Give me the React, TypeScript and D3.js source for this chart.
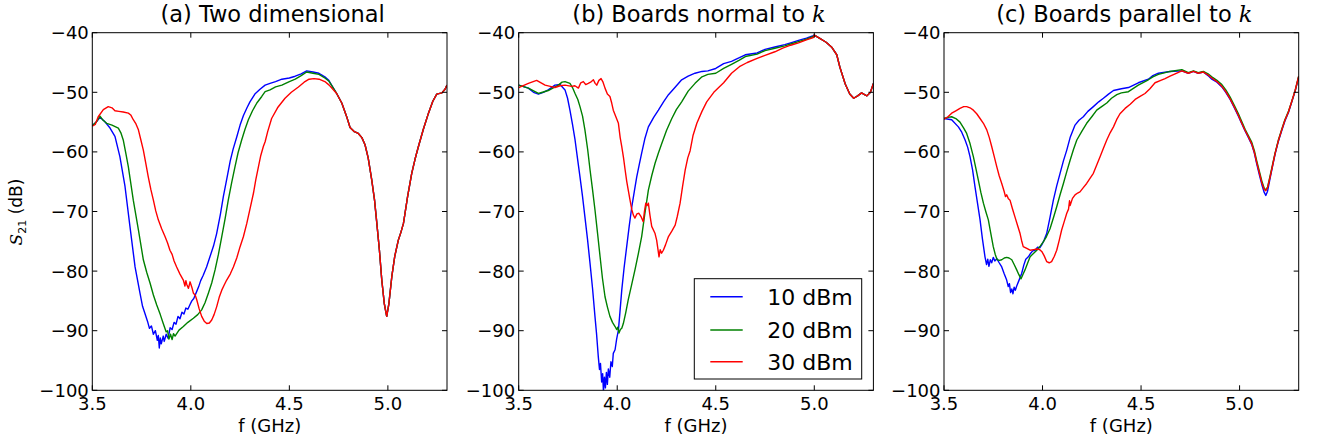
import React from 'react';
import * as d3 from 'd3';

// frequency (GHz), S21 (dB)
const xTicks = [3.5, 4.0, 4.5, 5.0];
const yTicks = [-40, -50, -60, -70, -80, -90, -100];
const powers = ['10 dBm', '20 dBm', '30 dBm'];
const colors = ['#0000ff', '#008000', '#ff0000'];

// (a) two dimensional
const aTail = [[4.74,-50.2],[4.766,-51.8],[4.79,-54.0],[4.808,-55.9],[4.83,-56.6],[4.85,-56.9],[4.868,-57.6],[4.884,-58.8],[4.9,-61.0],[4.918,-64.7],[4.932,-68.0],[4.944,-72],[4.957,-76.5],[4.969,-81.5],[4.982,-85.5],[4.994,-87.6],[5.005,-85.5],[5.02,-80.9],[5.035,-77.5],[5.053,-74.8],[5.066,-73.5],[5.079,-72],[5.1,-67.5],[5.121,-63.6],[5.138,-61.2],[5.155,-59.1],[5.18,-56.2],[5.206,-53.5],[5.228,-51.5],[5.248,-50.3],[5.274,-50.1],[5.29,-49.5],[5.3,-48.8]];
const aBlue = [[3.5,-55.6],[3.52,-55.0],[3.539,-54.2],[3.56,-54.8],[3.59,-56],[3.615,-57.4],[3.64,-60.8],[3.666,-65.8],[3.691,-72.5],[3.717,-79.3],[3.742,-83.7],[3.755,-85.9],[3.768,-87.2],[3.78,-88.4],[3.79,-89.6],[3.8,-89.2],[3.81,-90.6],[3.82,-90.0],[3.83,-91.6],[3.835,-90.8],[3.84,-92.9],[3.845,-91.2],[3.85,-92.2],[3.86,-90.9],[3.865,-91.8],[3.875,-90.6],[3.885,-91.3],[3.895,-89.5],[3.905,-89.8],[3.915,-88.6],[3.925,-88.9],[3.935,-87.6],[3.945,-88.0],[3.955,-86.9],[3.965,-87.2],[3.975,-86.2],[3.985,-86.4],[3.996,-85.6],[4.005,-85.0],[4.015,-84.6],[4.03,-83.4],[4.04,-82.6],[4.05,-81.6],[4.063,-80.7],[4.08,-79.3],[4.097,-77.6],[4.115,-75.8],[4.131,-73.7],[4.15,-70.5],[4.165,-67.5],[4.182,-64.6],[4.2,-61.5],[4.215,-59.5],[4.233,-57.5],[4.25,-55.5],[4.267,-53.9],[4.285,-52.6],[4.3,-51.6],[4.325,-50.3],[4.351,-49.5],[4.377,-48.8],[4.402,-48.5],[4.43,-48.2],[4.462,-47.8],[4.5,-47.6],[4.53,-47.3],[4.56,-46.9],[4.588,-46.4],[4.62,-46.6],[4.65,-46.8],[4.68,-47.4],[4.7,-48.0]];
const aGreen = [[3.5,-55.6],[3.52,-55.0],[3.539,-54.0],[3.555,-54.7],[3.573,-55.2],[3.6,-55.5],[3.632,-56.0],[3.645,-56.8],[3.657,-58],[3.67,-60.2],[3.683,-62.5],[3.708,-68.1],[3.734,-73.1],[3.759,-78.1],[3.776,-80.2],[3.793,-82],[3.81,-84.0],[3.827,-85.7],[3.845,-87.3],[3.86,-88.8],[3.875,-90.2],[3.882,-90.0],[3.889,-91.4],[3.897,-90.6],[3.905,-91.5],[3.912,-90.5],[3.92,-90.9],[3.94,-89.9],[3.962,-89.3],[3.985,-88.6],[4.013,-87.9],[4.035,-87.3],[4.055,-86.5],[4.072,-85.3],[4.089,-83.7],[4.106,-82],[4.123,-79.8],[4.14,-77.2],[4.157,-74.2],[4.174,-71.2],[4.19,-68.1],[4.207,-65.2],[4.224,-62.5],[4.24,-60.1],[4.258,-58],[4.275,-56.2],[4.292,-54.6],[4.313,-53.1],[4.335,-51.8],[4.36,-50.7],[4.377,-49.9],[4.402,-49.6],[4.43,-49.1],[4.462,-48.8],[4.5,-48.2],[4.53,-47.8],[4.56,-47.2],[4.588,-46.6],[4.62,-46.8],[4.65,-47.0],[4.68,-47.6],[4.7,-48.1]];
const aRed = [[3.5,-55.7],[3.515,-55.4],[3.53,-54.1],[3.556,-52.9],[3.581,-52.4],[3.6,-52.6],[3.615,-53.1],[3.635,-53.2],[3.657,-53.3],[3.683,-53.5],[3.695,-53.8],[3.708,-54.6],[3.72,-55.2],[3.734,-56.3],[3.745,-57.8],[3.759,-59.7],[3.772,-62.0],[3.784,-64.2],[3.797,-66.3],[3.81,-68.1],[3.822,-69.9],[3.835,-71.4],[3.852,-72.9],[3.869,-74.2],[3.882,-75.3],[3.894,-76.5],[3.905,-77.2],[3.915,-78.3],[3.928,-79.3],[3.945,-80.5],[3.962,-81.5],[3.97,-82.5],[3.975,-81.6],[3.979,-82.2],[3.988,-82.9],[3.996,-81.8],[4.005,-82.7],[4.013,-83.7],[4.022,-84.0],[4.03,-84.8],[4.042,-86.3],[4.055,-87.6],[4.068,-88.4],[4.081,-88.8],[4.094,-88.7],[4.106,-88.2],[4.118,-87.3],[4.131,-86],[4.144,-84.4],[4.157,-83.2],[4.17,-82.3],[4.182,-81.5],[4.2,-80.5],[4.216,-79.3],[4.233,-77.8],[4.25,-75.9],[4.267,-74.2],[4.284,-72],[4.3,-69.6],[4.318,-66.9],[4.33,-64.6],[4.343,-62.5],[4.355,-60.6],[4.368,-59.1],[4.377,-58.3],[4.39,-56.6],[4.41,-54.4],[4.44,-52.6],[4.478,-51],[4.51,-50.0],[4.546,-49.1],[4.575,-48.3],[4.6,-47.8],[4.625,-47.7],[4.651,-47.8],[4.68,-48.2],[4.702,-48.8]];

// (b) boards normal to k
const bTail = [[5.0,-40.4],[5.03,-41.0],[5.06,-41.6],[5.09,-42.5],[5.114,-43.7],[5.13,-45.8],[5.157,-48.6],[5.18,-50.3],[5.2,-51.0],[5.22,-50.6],[5.24,-50.1],[5.255,-50.4],[5.267,-50.6],[5.285,-50.0],[5.3,-48.5]];
const bBlue = [[3.5,-48.8],[3.549,-49.3],[3.575,-50.0],[3.6,-50.3],[3.625,-50.0],[3.65,-49.6],[3.684,-48.8],[3.71,-48.7],[3.735,-49.6],[3.748,-51.0],[3.76,-53],[3.773,-55.4],[3.786,-58],[3.798,-61.0],[3.811,-64.2],[3.824,-67.5],[3.836,-70.9],[3.849,-74.6],[3.862,-78.7],[3.875,-83.0],[3.887,-87.6],[3.895,-90.5],[3.904,-94.4],[3.91,-96.5],[3.915,-95.5],[3.921,-98.6],[3.926,-97.2],[3.93,-100.2],[3.935,-97.8],[3.94,-99.6],[3.945,-97.0],[3.95,-99.0],[3.955,-96.4],[3.962,-97.8],[3.968,-95.2],[3.975,-96.0],[3.98,-93.8],[3.989,-93.2],[3.997,-91.4],[4.006,-89.9],[4.014,-86.8],[4.023,-83.2],[4.035,-79.4],[4.048,-75.9],[4.061,-72.4],[4.074,-69.2],[4.087,-66.6],[4.099,-64.2],[4.112,-62.1],[4.124,-60.2],[4.14,-57.8],[4.158,-55.8],[4.185,-54.2],[4.209,-53],[4.235,-51.6],[4.26,-50.4],[4.295,-49.1],[4.327,-47.9],[4.36,-47.3],[4.395,-46.8],[4.43,-46.5],[4.46,-46.4],[4.5,-46.0],[4.54,-45.2],[4.58,-44.8],[4.62,-44.2],[4.65,-43.7],[4.71,-43.4],[4.75,-42.8],[4.8,-42.4],[4.85,-42.0],[4.88,-41.7],[4.92,-41.3],[4.96,-40.9],[4.995,-40.5]];
const bGreen = [[3.5,-48.8],[3.549,-49.3],[3.6,-50.2],[3.65,-49.7],[3.701,-48.8],[3.72,-48.3],[3.735,-48.2],[3.76,-48.5],[3.773,-49.2],[3.786,-50.2],[3.8,-51.2],[3.811,-52.4],[3.824,-54.0],[3.836,-56.3],[3.85,-59.6],[3.862,-63],[3.875,-66.4],[3.887,-69.7],[3.9,-73.6],[3.913,-77.6],[3.925,-81.2],[3.938,-84.3],[3.95,-86.0],[3.963,-87.6],[3.976,-88.6],[3.989,-89.3],[3.997,-89.8],[4.003,-89.4],[4.009,-90.4],[4.016,-89.8],[4.023,-89.6],[4.031,-88.8],[4.043,-87.0],[4.056,-84.8],[4.073,-82.3],[4.09,-79.8],[4.107,-77.1],[4.124,-74.2],[4.14,-70.4],[4.158,-66.4],[4.175,-64.0],[4.192,-61.9],[4.209,-60.2],[4.226,-58.6],[4.25,-56.4],[4.277,-54.4],[4.3,-52.9],[4.327,-51.6],[4.36,-49.8],[4.395,-48.5],[4.43,-47.4],[4.46,-47.0],[4.5,-46.8],[4.54,-46.0],[4.58,-45.3],[4.62,-44.6],[4.65,-44.0],[4.71,-43.6],[4.75,-43.0],[4.8,-42.6],[4.85,-42.2],[4.88,-41.9],[4.92,-41.5],[4.96,-41.1],[4.995,-40.6]];
const bRed = [[3.5,-49.2],[3.549,-48.5],[3.591,-48.0],[3.634,-48.8],[3.66,-49.0],[3.684,-49.2],[3.71,-48.9],[3.735,-48.8],[3.769,-49.0],[3.785,-48.9],[3.803,-49.3],[3.815,-48.4],[3.828,-48.2],[3.84,-48.7],[3.853,-48.5],[3.865,-48.3],[3.879,-47.9],[3.888,-48.5],[3.896,-48.8],[3.907,-48.0],[3.918,-47.7],[3.928,-48.3],[3.938,-49.3],[3.95,-50.3],[3.963,-50.7],[3.972,-51.8],[3.98,-53],[3.993,-54.1],[4.006,-55.2],[4.015,-57.6],[4.023,-59.1],[4.032,-61.0],[4.04,-63],[4.048,-64.9],[4.056,-66.4],[4.065,-68.1],[4.074,-69.7],[4.082,-70.6],[4.09,-71.1],[4.1,-70.4],[4.11,-70.3],[4.12,-70.8],[4.132,-71.7],[4.138,-70.0],[4.145,-68.6],[4.152,-69.0],[4.158,-68.6],[4.166,-70.6],[4.175,-72.5],[4.192,-73.7],[4.2,-74.8],[4.206,-76.2],[4.212,-77.6],[4.218,-76.4],[4.225,-77.0],[4.234,-76.5],[4.245,-75.6],[4.26,-74.2],[4.277,-73.3],[4.294,-72.3],[4.305,-70.8],[4.319,-68.6],[4.332,-65.7],[4.345,-63],[4.358,-61.0],[4.37,-59.8],[4.385,-57.2],[4.404,-55.2],[4.43,-53.2],[4.454,-51.6],[4.49,-50.0],[4.54,-48.4],[4.58,-46.8],[4.62,-45.7],[4.66,-45.0],[4.71,-44.3],[4.75,-43.8],[4.8,-43.2],[4.84,-42.6],[4.88,-42.1],[4.92,-41.7],[4.96,-41.2],[4.995,-40.8]];

// (c) boards parallel to k
const cBlue = [[3.5,-54.4],[3.539,-54.6],[3.573,-55.8],[3.59,-56.7],[3.607,-58],[3.62,-59.2],[3.632,-60.8],[3.645,-63.0],[3.657,-65.8],[3.67,-68.6],[3.683,-71.4],[3.695,-74.6],[3.708,-77.6],[3.716,-78.9],[3.722,-78.0],[3.728,-79.2],[3.735,-78.1],[3.742,-78.6],[3.75,-77.7],[3.758,-78.3],[3.768,-77.9],[3.78,-78.6],[3.793,-79.3],[3.805,-80.4],[3.818,-81.5],[3.826,-82.6],[3.832,-82.1],[3.838,-83.6],[3.844,-83.0],[3.85,-83.8],[3.856,-82.7],[3.862,-83.2],[3.869,-82.5],[3.88,-81.6],[3.894,-80.4],[3.905,-79.0],[3.915,-78.0],[3.928,-77.6],[3.94,-77.0],[3.95,-76.6],[3.962,-76.5],[3.975,-76.0],[3.986,-76.1],[3.996,-75.6],[4.008,-74.8],[4.021,-73.7],[4.038,-71.0],[4.055,-68.1],[4.072,-65.7],[4.089,-63.6],[4.106,-61.5],[4.123,-59.7],[4.14,-57.6],[4.165,-55.5],[4.185,-54.7],[4.207,-54.1],[4.23,-53.2],[4.258,-52.4],[4.285,-51.6],[4.309,-51],[4.335,-50.3],[4.36,-49.7],[4.4,-49.4],[4.436,-49.2],[4.486,-48.4],[4.537,-47.8],[4.56,-47.2],[4.588,-46.8],[4.647,-46.5],[4.707,-46.4],[4.74,-46.8],[4.766,-46.5],[4.79,-46.8],[4.816,-46.6],[4.84,-47.2],[4.859,-47.8],[4.885,-48.3],[4.91,-49.1],[4.93,-50.0],[4.952,-51.2],[4.975,-52.7],[4.994,-54.0],[5.01,-55.2],[5.028,-56.5],[5.045,-57.6],[5.062,-58.8],[5.075,-60.2],[5.087,-62.0],[5.1,-63.8],[5.113,-65.5],[5.125,-66.8],[5.133,-67.3],[5.142,-66.6],[5.155,-64.4],[5.168,-62.3],[5.18,-60.4],[5.197,-58.2],[5.214,-56.4],[5.23,-54.8],[5.248,-53.4],[5.265,-51.6],[5.282,-49.8],[5.3,-47.4]];
const cGreen = [[3.5,-54.4],[3.52,-54.2],[3.539,-54.1],[3.56,-54.4],[3.581,-55],[3.6,-56.0],[3.615,-56.9],[3.632,-58.6],[3.649,-60.8],[3.662,-62.8],[3.674,-64.7],[3.687,-66.8],[3.7,-68.6],[3.712,-70.0],[3.725,-71.4],[3.737,-73.6],[3.75,-75.9],[3.76,-77.2],[3.77,-78.1],[3.782,-78.2],[3.793,-78.1],[3.806,-77.8],[3.818,-77.7],[3.83,-77.8],[3.844,-78.1],[3.856,-78.9],[3.869,-79.8],[3.88,-80.6],[3.891,-81.3],[3.9,-80.6],[3.911,-79.8],[3.924,-78.7],[3.937,-77.6],[3.955,-77.0],[3.971,-76.5],[3.988,-75.8],[4.004,-75.1],[4.02,-74.2],[4.038,-72.9],[4.055,-71.1],[4.072,-69.2],[4.089,-67.2],[4.106,-65.3],[4.123,-63.3],[4.14,-61.4],[4.157,-59.6],[4.174,-58],[4.2,-56.5],[4.224,-55.2],[4.25,-54.1],[4.275,-53],[4.3,-52.4],[4.326,-51.8],[4.35,-51.0],[4.377,-50.4],[4.4,-50.1],[4.436,-49.9],[4.486,-48.8],[4.537,-47.9],[4.56,-47.4],[4.588,-47.0],[4.647,-46.5],[4.707,-46.2],[4.74,-46.7],[4.766,-46.4],[4.79,-46.7],[4.816,-46.5],[4.84,-46.9],[4.859,-47.4],[4.885,-48.0],[4.91,-48.7],[4.93,-49.6],[4.952,-50.8],[4.975,-52.3],[4.994,-53.6],[5.01,-54.8],[5.028,-56.2],[5.045,-57.3],[5.062,-58.4],[5.075,-59.8],[5.087,-61.5],[5.1,-63.2],[5.113,-64.9],[5.125,-66.1],[5.133,-66.4],[5.142,-65.9],[5.155,-64.0],[5.168,-62.0],[5.18,-60.2],[5.197,-58.0],[5.214,-56.2],[5.23,-54.6],[5.248,-53.2],[5.265,-51.5],[5.282,-49.7],[5.3,-47.3]];
const cRed = [[3.5,-54.5],[3.52,-54.1],[3.539,-53.5],[3.56,-53.1],[3.581,-52.7],[3.6,-52.4],[3.615,-52.4],[3.632,-52.6],[3.649,-53],[3.666,-53.6],[3.683,-54.4],[3.7,-55.2],[3.717,-56.3],[3.73,-57.6],[3.742,-59.1],[3.755,-60.8],[3.768,-62.5],[3.78,-64.0],[3.793,-65.3],[3.805,-66.6],[3.812,-67.5],[3.818,-67.2],[3.826,-67.8],[3.835,-68.1],[3.847,-69.5],[3.86,-70.9],[3.873,-72.3],[3.886,-73.7],[3.894,-74.9],[3.902,-75.9],[3.92,-76.2],[3.937,-76.5],[3.955,-76.4],[3.971,-76.3],[3.985,-76.4],[3.996,-76.7],[4.008,-77.4],[4.021,-78.4],[4.034,-78.6],[4.046,-78.4],[4.06,-77.5],[4.072,-76.5],[4.085,-74.8],[4.097,-73.1],[4.11,-71.7],[4.123,-70.3],[4.132,-69.6],[4.137,-68.2],[4.14,-69.0],[4.152,-67.8],[4.165,-67.2],[4.178,-66.9],[4.19,-66.7],[4.207,-66.0],[4.224,-65.3],[4.24,-64.5],[4.258,-63.6],[4.275,-62.2],[4.292,-60.8],[4.31,-59.3],[4.326,-58],[4.343,-56.8],[4.36,-55.8],[4.376,-54.6],[4.393,-53.6],[4.419,-52.7],[4.445,-52.0],[4.47,-51.2],[4.495,-50.7],[4.52,-50.2],[4.545,-49.4],[4.571,-48.4],[4.6,-48.0],[4.622,-47.7],[4.647,-47.3],[4.673,-46.9],[4.707,-46.4],[4.74,-46.8],[4.766,-46.5],[4.79,-46.8],[4.816,-46.6],[4.84,-47.1],[4.859,-47.6],[4.885,-48.2],[4.91,-49.0],[4.93,-49.9],[4.952,-51.1],[4.975,-52.6],[4.994,-53.9],[5.01,-55.1],[5.028,-56.4],[5.045,-57.5],[5.062,-58.7],[5.075,-60.1],[5.087,-61.8],[5.1,-63.5],[5.113,-65.2],[5.125,-66.3],[5.133,-66.5],[5.142,-66.0],[5.155,-64.2],[5.168,-62.2],[5.18,-60.3],[5.197,-58.1],[5.214,-56.3],[5.23,-54.7],[5.248,-53.3],[5.265,-51.5],[5.282,-49.7],[5.3,-47.3]];

const FONT = 'DejaVu Sans, sans-serif';
const TOP = 32.7, BOTTOM = 390.3, PW = 354.7;
const TICK = 5;

type Pt = number[];

function Panel({ left, id, title, series, legend }: { left: number; id: string; title: React.ReactNode; series: Pt[][]; legend?: boolean }) {
  const x = d3.scaleLinear().domain([3.5, 5.3]).range([left, left + PW]);
  const y = d3.scaleLinear().domain([-100, -40]).range([BOTTOM, TOP]);
  const line = d3.line<Pt>().x(d => x(d[0])).y(d => y(d[1]));
  const right = left + PW;

  // legend box sits in the lower right corner
  const lw = 167.4, lh = 100.3;
  const lx = right - 11.7 - lw, ly = BOTTOM - 11.3 - lh;
  const rows = [18, 51.3, 83];

  return (
    <g>
      <defs>
        <clipPath id={id}>
          <rect x={left} y={TOP} width={PW} height={BOTTOM - TOP} />
        </clipPath>
      </defs>
      <g clipPath={`url(#${id})`}>
        {series.map((s, i) => (
          <path key={i} d={line(s) || ''} fill="none" stroke={colors[i]} strokeWidth={1.4} strokeLinejoin="round" />
        ))}
      </g>
      <rect x={left} y={TOP} width={PW} height={BOTTOM - TOP} fill="none" stroke="#000" strokeWidth={1} />
      {xTicks.map(t => (
        <g key={t}>
          <line x1={x(t)} x2={x(t)} y1={BOTTOM} y2={BOTTOM - TICK} stroke="#000" />
          <line x1={x(t)} x2={x(t)} y1={TOP} y2={TOP + TICK} stroke="#000" />
          <text x={x(t)} y={BOTTOM + 20} textAnchor="middle" fontSize={18} fontFamily={FONT}>{t.toFixed(1)}</text>
        </g>
      ))}
      {yTicks.map(t => (
        <g key={t}>
          <line x1={left} x2={left + TICK} y1={y(t)} y2={y(t)} stroke="#000" />
          <line x1={right} x2={right - TICK} y1={y(t)} y2={y(t)} stroke="#000" />
          <text x={left - 3.5} y={y(t)} dy="0.36em" textAnchor="end" fontSize={18} fontFamily={FONT}>{'\u2212' + Math.abs(t)}</text>
        </g>
      ))}
      <text x={(left + right) / 2} y={432} textAnchor="middle" fontSize={18} fontFamily={FONT}>f (GHz)</text>
      <text x={(left + right) / 2 + 3} y={22} textAnchor="middle" fontSize={22.5} fontFamily={FONT}>{title}</text>
      {legend && (
        <g>
          <rect x={lx} y={ly} width={lw} height={lh} fill="#fff" stroke="#000" strokeWidth={1} />
          {powers.map((p, i) => (
            <g key={p}>
              <line x1={lx + 16} x2={lx + 48.4} y1={ly + rows[i]} y2={ly + rows[i]} stroke={colors[i]} strokeWidth={1.4} />
              <text x={lx + 73} y={ly + rows[i]} dy="0.36em" fontSize={22} fontFamily={FONT}>{p}</text>
            </g>
          ))}
        </g>
      )}
    </g>
  );
}

const kItalic = <tspan fontFamily="DejaVu Serif, serif" fontStyle="italic">k</tspan>;

export default function App() {
  return (
    <svg width={1320} height={447} style={{ position: 'absolute', left: 0, top: 0, background: '#fff' }}>
      <rect width={1320} height={447} fill="#fff" />
      <Panel left={92.3} id="clipA" title="(a) Two dimensional" series={[aBlue.concat(aTail), aGreen.concat(aTail), aRed.concat(aTail)]} />
      <Panel left={518.7} id="clipB" title={<>(b) Boards normal to {kItalic}</>} series={[bBlue.concat(bTail), bGreen.concat(bTail), bRed.concat(bTail)]} legend />
      <Panel left={944} id="clipC" title={<>(c) Boards parallel to {kItalic}</>} series={[cBlue, cGreen, cRed]} />
      <text transform="translate(22,212) rotate(-90)" textAnchor="middle" fontSize={17} fontFamily={FONT}>
        <tspan fontFamily="DejaVu Serif, serif" fontStyle="italic">S</tspan>
        <tspan fontSize={11} dy={4}>21</tspan>
        <tspan dy={-4}> (dB)</tspan>
      </text>
    </svg>
  );
}
